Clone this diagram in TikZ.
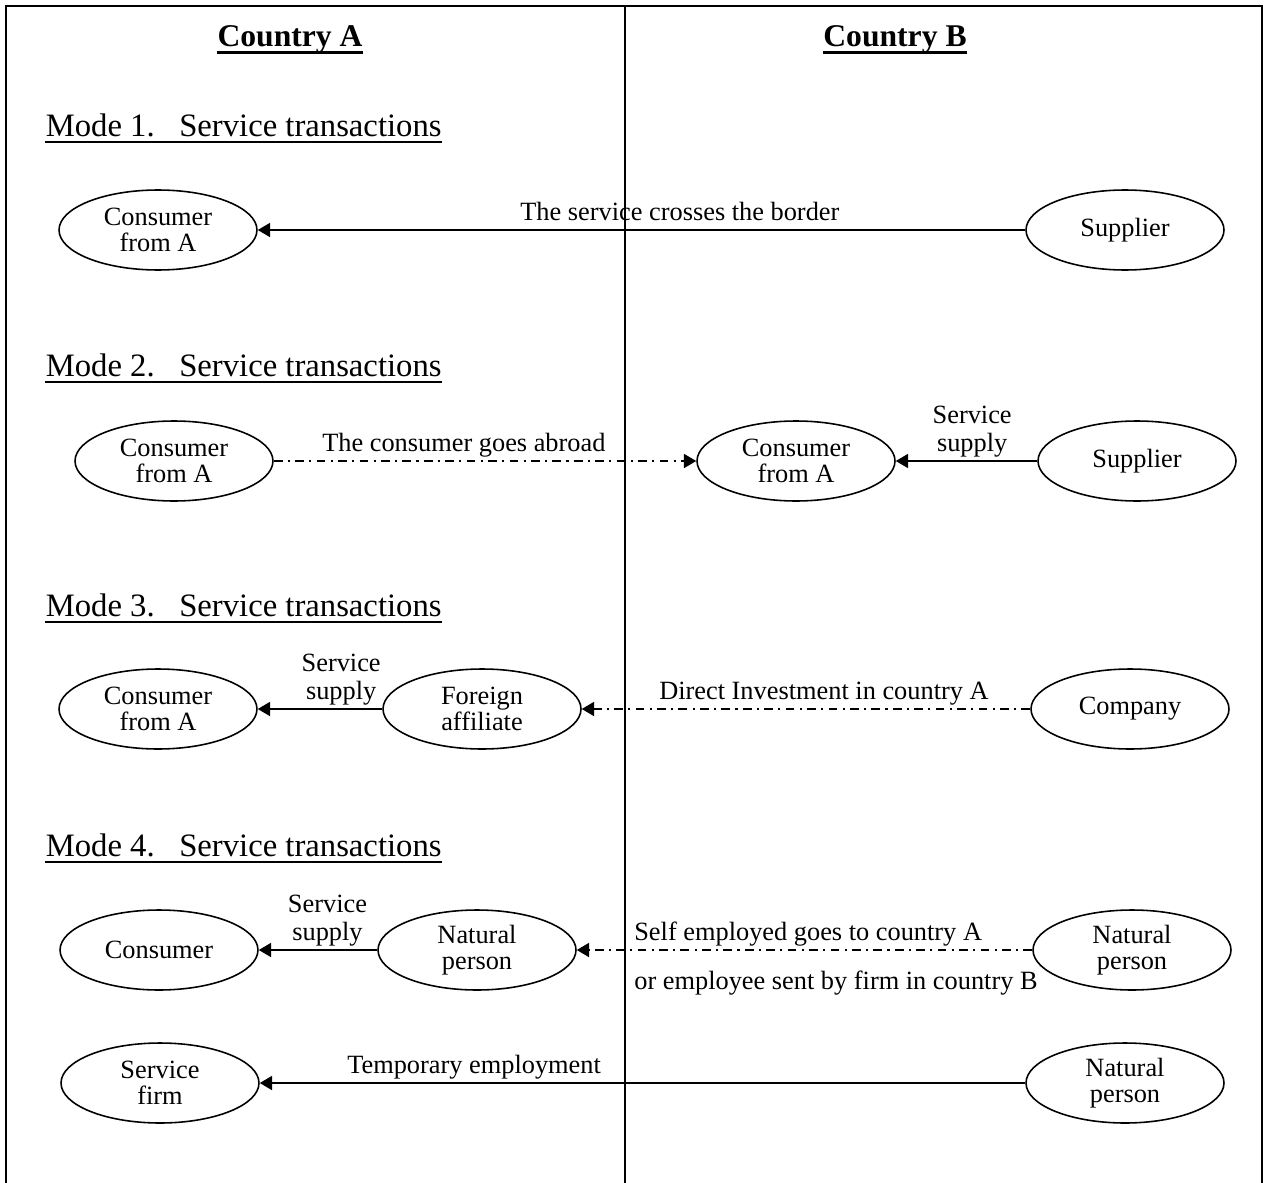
\documentclass[tikz,border=0pt]{standalone}
\usepackage{fontspec}
\setmainfont{Liberation Serif}
\usetikzlibrary{shapes.geometric,arrows.meta}

\begin{document}
\begin{tikzpicture}[x=0.02cm,y=-0.02cm,>={Triangle[length=7pt,width=8pt]},line width=0.9pt,
    oval/.style={draw,ellipse,minimum width=3.96cm,minimum height=1.6cm,inner sep=0pt,align=center,font=\fontsize{15}{14.5}\selectfont},
    lbl/.style={font=\fontsize{15}{16}\selectfont,align=center,inner sep=2.5pt,text depth=0.25em},
    mode/.style={anchor=base west,inner sep=0pt,font=\fontsize{18.6}{19}\selectfont},
    country/.style={anchor=base,inner sep=0pt,font=\bfseries\fontsize{18}{18}\selectfont},
    dashdot/.style={dash pattern=on 5pt off 3pt on 1.2pt off 3pt}]
        \useasboundingbox (0,0) rectangle (1265,1183);
        % frame and border line
        \draw (6,1183) -- (6,6) -- (1262,6) -- (1262,1183);
        \draw (625,6) -- (625,1183);
        \node[country] (ca) at (290,47) {Country A};
        \node[country] (cb) at (895,47) {Country B};
        \draw[line width=1.6pt] ([yshift=-3pt]ca.base west) -- ([yshift=-3pt]ca.base east);
        \draw[line width=1.6pt] ([yshift=-3pt]cb.base west) -- ([yshift=-3pt]cb.base east);
        \node[mode] (m1) at (45,136) {Mode 1.\hspace{14pt}Service transactions};
        \node[mode] (m2) at (45,376) {Mode 2.\hspace{14pt}Service transactions};
        \node[mode] (m3) at (45,616) {Mode 3.\hspace{14pt}Service transactions};
        \node[mode] (m4) at (45,856) {Mode 4.\hspace{14pt}Service transactions};
        \draw[line width=1.1pt] ([yshift=-3.2pt]m1.base west) -- ([yshift=-3.2pt]m1.base east);
        \draw[line width=1.1pt] ([yshift=-3.2pt]m2.base west) -- ([yshift=-3.2pt]m2.base east);
        \draw[line width=1.1pt] ([yshift=-3.2pt]m3.base west) -- ([yshift=-3.2pt]m3.base east);
        \draw[line width=1.1pt] ([yshift=-3.2pt]m4.base west) -- ([yshift=-3.2pt]m4.base east);
        % mode 1
        \node[oval] (con1) at (158,230) {Consumer\\from A};
        \node[oval] (sup1) at (1125,230) {Supplier};
        \draw[->] (sup1) to node[lbl,above,pos=.45] {The service crosses the border} (con1);
        % mode 2
        \node[oval] (con2) at (174,461) {Consumer\\from A};
        \node[oval] (abr2) at (796,461) {Consumer\\from A};
        \node[oval] (sup2) at (1137,461) {Supplier};
        \draw[->,dashdot] (con2) to node[lbl,above,pos=.45] {The consumer goes abroad} (abr2);
        \draw[->] (sup2) to node[lbl,above,pos=.46] {Service\\supply} (abr2);
        % mode 3
        \node[oval] (con3) at (158,709) {Consumer\\from A};
        \node[oval] (aff3) at (482,709) {Foreign\\affiliate};
        \node[oval] (com3) at (1130,709) {Company};
        \draw[->] (aff3) to node[lbl,above,pos=.33] {Service\\supply} (con3);
        \draw[->,dashdot] (com3) to node[lbl,above,pos=.46] {Direct Investment in country A} (aff3);
        % mode 4
        \node[oval] (con4) at (159,950) {Consumer};
        \node[oval] (np4) at (477,950) {Natural\\person};
        \node[oval] (npb4) at (1132,950) {Natural\\person};
        \draw[->] (np4) to node[lbl,above,pos=.42] {Service\\supply} (con4);
        \draw[->,dashdot] (npb4) to node[lbl,above right,pos=.885] {Self employed goes to country A}
            node[lbl,below right,pos=.885,yshift=-9pt] {or employee sent by firm in country B} (np4);
        \node[oval] (firm5) at (160,1083) {Service\\firm};
        \node[oval] (npb5) at (1125,1083) {Natural\\person};
        \draw[->] (npb5) to node[lbl,above,pos=.72] {Temporary employment} (firm5);
\end{tikzpicture}
\end{document}
